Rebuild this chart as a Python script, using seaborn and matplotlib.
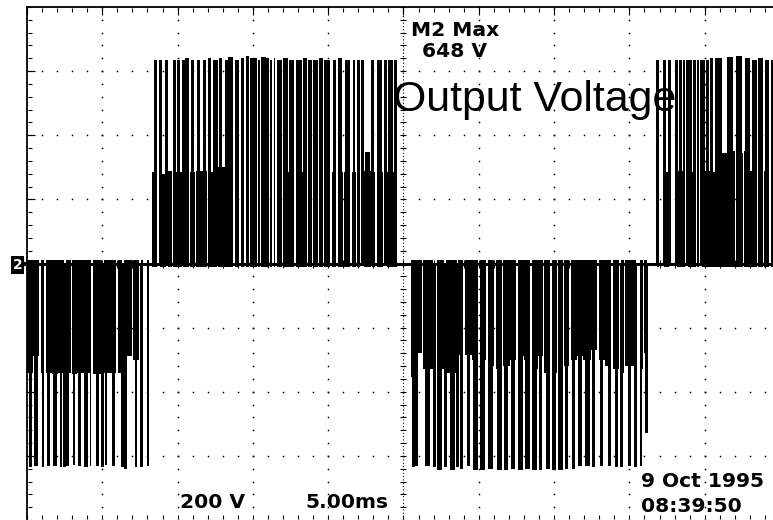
import numpy as np
import matplotlib
matplotlib.use("Agg")
import matplotlib.pyplot as plt
import seaborn as sns

sns.set_theme(style="white")
plt.rcParams['font.family'] = ['DejaVu Sans']

# ---------------- data (time in ms, voltage in V) ----------------
baseline_ms = [0.0, 50.0]
baseline_v = [0.0, 0.0]

# negative half-cycle (left edge of screen)
neg1_low_ms = [(0.03, 0.37), (0.43, 0.83), (0.90, 1.16), (1.23, 1.63), (1.69, 2.03), (2.09, 2.49),
               (2.56, 2.95), (3.02, 3.29), (3.35, 3.69), (3.75, 4.28), (4.35, 5.01), (5.08, 5.48),
               (5.54, 5.94), (6.01, 6.34), (6.41, 6.94), (7.01, 7.47), (7.54, 7.67)]
neg1_low_v = [-340, -290, -340, -340, -345, -340, -340, -345, -340, -340, -345, -340, -340, -340, -290, -300, -340]
neg1_high_ms = [(0.46, 0.73), (1.00, 1.13), (1.33, 1.53), (1.73, 1.99), (2.19, 2.32), (2.59, 2.79),
                (3.05, 3.19), (3.39, 3.59), (3.78, 4.05), (4.18, 4.28), (4.58, 4.78), (5.18, 5.31),
                (5.64, 5.84), (6.44, 6.64), (7.17, 7.30), (7.97, 8.07)]
neg1_high_v = [-633, -636, -633, -633, -636, -633, -630, -633, -636, -633, -633, -630, -633, -640, -636, -633]
neg1_spike_ms = [0.20, 2.45, 4.95, 6.30, 7.55]
neg1_spike_v = [-633, -633, -633, -633, -633]

# positive half-cycle
pos1_low_ms = [(8.33, 8.63), (8.80, 9.23), (9.36, 9.63), (9.69, 10.29), (10.36, 10.76), (10.82, 11.16),
               (11.22, 11.95), (12.02, 12.62), (12.68, 13.35), (13.41, 13.71), (13.78, 14.11), (14.18, 14.44),
               (14.51, 14.77), (14.84, 15.24), (15.31, 15.50), (15.57, 15.84), (15.90, 16.07), (16.14, 16.30),
               (16.37, 16.50), (16.57, 16.93), (17.00, 17.30), (17.36, 17.76), (17.83, 18.23), (18.29, 18.56),
               (18.63, 18.92), (18.99, 19.29), (19.36, 19.65), (19.72, 20.15), (20.22, 20.55), (20.62, 20.95),
               (21.02, 21.48), (21.55, 21.85), (21.91, 22.11), (22.38, 22.84), (22.91, 23.14), (23.21, 23.64),
               (23.90, 24.20), (24.27, 24.54)]
pos1_low_v = [284, 280, 290, 284, 288, 284, 290, 284, 300, 284, 284, 284, 284, 284, 284, 284, 284, 284,
              284, 284, 284, 284, 284, 284, 284, 284, 284, 284, 284, 284, 284, 284, 284, 290, 284, 284,
              284, 284]
pos1_high_ms = [(9.69, 9.89), (9.96, 10.16), (10.49, 10.76), (11.29, 11.49), (12.02, 12.22), (12.35, 12.52),
                (12.75, 12.95), (13.35, 13.68), (13.78, 14.11), (14.18, 14.44), (14.51, 14.77), (14.84, 15.24),
                (15.31, 15.50), (15.57, 15.84), (15.90, 16.07), (16.14, 16.30), (16.37, 16.50), (16.60, 16.93),
                (17.00, 17.30), (17.40, 17.76), (17.86, 18.23), (18.33, 18.56), (18.66, 18.92), (18.99, 19.29),
                (19.39, 19.65), (19.75, 20.12), (20.32, 20.52), (20.65, 20.92), (21.12, 21.45), (21.65, 21.78),
                (21.91, 22.08), (22.44, 22.78), (23.21, 23.57), (23.97, 24.30)]
pos1_high_v = [636, 636, 640, 636, 640, 636, 640, 645, 636, 640, 648, 640, 636, 645, 640, 636, 640, 636,
               640, 636, 636, 640, 636, 636, 640, 636, 636, 640, 636, 636, 636, 347, 636, 636]
pos1_spike_ms = [8.47, 8.83, 9.26, 10.33, 10.96, 11.75, 12.55, 13.21, 22.24, 22.91, 23.77, 24.44]
pos1_spike_v = [636, 636, 636, 636, 636, 636, 636, 636, 636, 636, 636, 636]

# negative half-cycle
neg2_low_ms = [(25.53, 25.86), (25.96, 26.20), (26.29, 26.93), (27.26, 27.72), (27.82, 28.52), (28.62, 28.98),
               (29.08, 29.52), (29.58, 29.98), (30.05, 30.51), (30.58, 31.04), (31.11, 31.57), (31.64, 32.04),
               (32.10, 32.50), (32.57, 32.97), (33.03, 33.40), (33.50, 33.90), (33.96, 34.23), (34.30, 34.76),
               (34.83, 35.16), (35.23, 35.62), (35.69, 36.02), (36.09, 36.49), (36.55, 36.89), (36.95, 37.42),
               (37.48, 37.88), (37.95, 38.35), (38.41, 38.81), (38.88, 39.34), (39.41, 39.67), (39.74, 40.47),
               (40.74, 40.90), (40.94, 41.17)]
neg2_low_v = [-353, -278, -330, -330, -340, -285, -285, -300, -300, -320, -330, -320, -300, -290, -300, -330,
              -290, -340, -340, -330, -320, -300, -290, -300, -270, -300, -320, -330, -340, -320, -330, -280]
neg2_high_ms = [(25.76, 25.96), (26.43, 26.76), (27.22, 27.56), (28.09, 28.42), (28.75, 28.95), (29.22, 29.42),
                (29.61, 29.95), (30.08, 30.41), (30.61, 30.94), (31.21, 31.54), (31.67, 31.94), (32.14, 32.40),
                (32.60, 32.93), (33.07, 33.40), (33.53, 33.86), (34.00, 34.20), (34.46, 34.73), (34.86, 35.13),
                (35.26, 35.59), (35.72, 35.92), (36.19, 36.39), (36.59, 36.85), (37.05, 37.38), (37.52, 37.72),
                (38.05, 38.25), (38.58, 38.78), (39.04, 39.24), (39.91, 40.11), (40.70, 40.84)]
neg2_high_v = [-633, -633, -643, -643, -640, -633, -643, -643, -640, -643, -643, -640, -643, -640, -643,
               -643, -640, -643, -643, -640, -640, -633, -633, -636, -633, -633, -636, -633, -633]
neg2_spike_ms = [25.63, 27.03, 27.76, 28.55, 39.44, 40.37, 41.07]
neg2_spike_v = [-633, -633, -633, -633, -633, -633, -524]

# positive half-cycle (right edge of screen)
pos2_low_ms = [(41.80, 41.97), (42.33, 42.66), (43.16, 43.56), (43.89, 44.45), (44.82, 45.32), (45.42, 45.98),
               (46.15, 46.65), (46.71, 46.98), (47.05, 47.51), (47.58, 47.97), (48.04, 48.44), (48.51, 48.90),
               (48.97, 49.30), (49.37, 50.00)]
pos2_low_v = [284, 284, 290, 284, 290, 284, 345, 350, 345, 350, 290, 284, 290, 284]
pos2_high_ms = [(43.29, 43.49), (43.56, 43.69), (43.96, 44.16), (44.49, 44.62), (44.89, 45.02), (45.35, 45.55),
                (45.68, 46.15), (46.48, 46.88), (47.08, 47.48), (47.68, 48.01), (48.14, 48.47), (48.54, 48.87),
                (49.00, 49.30), (49.37, 50.00)]
pos2_high_v = [636, 636, 636, 636, 636, 640, 640, 645, 648, 640, 636, 640, 636, 636]
pos2_spike_ms = [41.83, 42.30, 42.60, 43.09, 43.82, 44.32, 44.75, 45.15]
pos2_spike_v = [636, 636, 636, 636, 636, 636, 636, 636]

label_max = ["M2 Max", "648 V"]
label_title = "Output Voltage"
label_scale = ["200 V", "5.00ms"]
label_date = ["9 Oct 1995", "08:39:50"]
channel = "2"

# ---------------- figure ----------------
W, H = 773, 520
fig = plt.figure(figsize=(W / 100, H / 100), dpi=100)
fig.patch.set_facecolor("white")
ax = fig.add_axes([27 / W, 0.0, 753 / W, 513 / H])
ax.set_facecolor("white")
ax.set_xlim(0, 50)
ax.set_ylim(-800, 800)
ax.set_xticks([])
ax.set_yticks([])
for s in ["right", "bottom"]:
    ax.spines[s].set_visible(False)
for s in ["left", "top"]:
    ax.spines[s].set_color("black")
    ax.spines[s].set_linewidth(1.3)

vpp = 1600 / 513.0   # volts per pixel
mpp = 50 / 753.0     # ms per pixel

# graticule (dotted)
dot = dict(marker="s", markersize=1.1, markeredgewidth=0, color="black", linestyle="none", zorder=1)
minor_t = np.arange(0, 50.01, 1.0)
minor_v = np.arange(-800, 800.01, 40.0)
for v in [-600, -400, -200, 200, 400, 600]:
    ax.plot(minor_t, np.full_like(minor_t, v), **dot)
for t in [5, 10, 15, 20, 30, 35, 40, 45]:
    ax.plot(np.full_like(minor_v, t), minor_v, **dot)
tick = dict(color="black", linestyle="none", markeredgewidth=0.8, zorder=1)
# centre vertical with ticks
ax.plot([25, 25], [-800, 800], color="black", lw=0.8, linestyle=(0, (1, 2)), zorder=1)
ax.plot(np.full_like(minor_v, 25), minor_v, marker="_", markersize=5, **tick)
# centre horizontal ticks
ax.plot(minor_t, np.zeros_like(minor_t), marker="|", markersize=6, **tick)
# border ticks
ax.plot(minor_t, np.full_like(minor_t, 800 - 2.5 * vpp), marker="|", markersize=3.0, **tick)
ax.plot(minor_t[::5], np.full_like(minor_t[::5], 800 - 4 * vpp), marker="|", markersize=5.5, **tick)
ax.plot(minor_t, np.full_like(minor_t, -800 + 3 * vpp), marker="|", markersize=2.5, **tick)
ax.plot(np.full_like(minor_v, 2.5 * mpp), minor_v, marker="_", markersize=3.0, **tick)
major_v = np.arange(-600, 600.01, 200.0)
ax.plot(np.full_like(major_v, 4 * mpp), major_v, marker="_", markersize=5.5, **tick)

# ---------------- trace ----------------
def blocks(spans, levels, base):
    starts = np.array([s for s, e in spans])
    widths = np.array([e - s for s, e in spans])
    lv = np.array(levels, dtype=float)
    ax.bar(starts, lv - base, width=widths, bottom=base, align="edge",
           color="black", linewidth=0, antialiased=False, zorder=3)

def spikes(ts, vs):
    ax.vlines(ts, 0, vs, color="black", linewidth=0.8, antialiased=False, zorder=3)

sns.lineplot(x=baseline_ms, y=baseline_v, color="black", linewidth=2.2, ax=ax, zorder=3)

blocks(neg1_low_ms, neg1_low_v, 10)
blocks(neg1_high_ms, neg1_high_v, 10)
spikes(neg1_spike_ms, neg1_spike_v)

blocks(pos1_low_ms, pos1_low_v, -12)
blocks(pos1_high_ms, pos1_high_v, -12)
spikes(pos1_spike_ms, pos1_spike_v)

blocks(neg2_low_ms, neg2_low_v, 10)
blocks(neg2_high_ms, neg2_high_v, 10)
spikes(neg2_spike_ms, neg2_spike_v)

blocks(pos2_low_ms, pos2_low_v, -12)
blocks(pos2_high_ms, pos2_high_v, -12)
spikes(pos2_spike_ms, pos2_spike_v)

# channel marker
ax.plot([-3.5 * mpp], [0], marker=">", markersize=7, color="black", markeredgewidth=0,
        clip_on=False, zorder=5)
fig.text(17.5 / W, 1 - 265 / H, channel, color="white", fontsize=10, fontweight="bold",
         ha="center", va="center", zorder=6,
         bbox=dict(boxstyle="square,pad=0.12", fc="black", ec="none"))

# ---------------- text ----------------
def px_text(x, y, s, **kw):
    kw.setdefault("ha", "left")
    kw.setdefault("va", "baseline")
    fig.text(x / W, 1 - y / H, s, zorder=10, **kw)

scope = dict(fontsize=14.6, fontweight="bold", color="black", family=["DejaVu Sans"])
px_text(455, 21, "\n".join(label_max), ha="center", va="top", multialignment="center",
        linespacing=1.12, **scope)
px_text(180, 508, label_scale[0], **scope)
px_text(305, 508, label_scale[1], **scope)
px_text(641, 487, label_date[0], **scope)
px_text(641, 512, label_date[1], **scope)
px_text(393, 111, label_title, fontsize=30.9, color="black", family=["Liberation Sans", "DejaVu Sans"])

fig.savefig("out.png", dpi=100, facecolor="white")
